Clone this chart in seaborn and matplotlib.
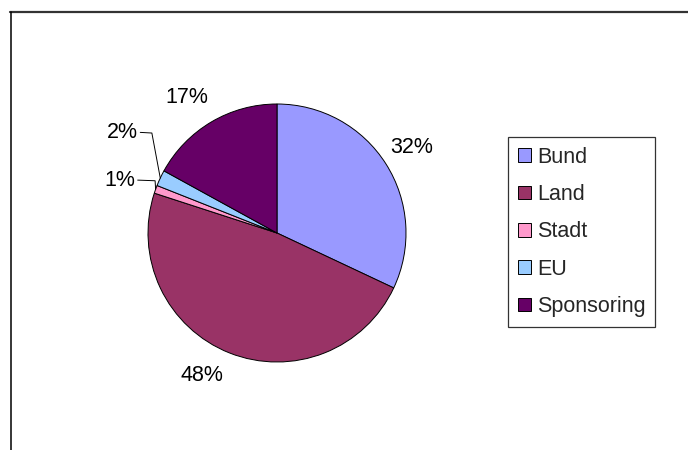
import numpy as np
import matplotlib
matplotlib.use("Agg")
import matplotlib.pyplot as plt
from matplotlib.lines import Line2D
from matplotlib.patches import Patch
import seaborn as sns

# Funding shares in percent
categories = ["Bund", "Land", "Stadt", "EU", "Sponsoring"]
shares = [32, 48, 1, 2, 17]
colors = ["#9999FF", "#993366", "#FF99CC", "#99CCFF", "#660066"]

sns.set_theme(style="white")
plt.rcParams["font.family"] = ["Liberation Sans", "DejaVu Sans"]

W, H = 688, 450
fig = plt.figure(figsize=(W / 100, H / 100), dpi=100)
fig.patch.set_facecolor("white")

# Pie axes: centre at (277, 233) px, radius 129 px
cx, cy, R = 277, 233, 129
half = 200
ax = fig.add_axes([(cx - half) / W, (H - cy - half) / H, 2 * half / W, 2 * half / H])

palette = sns.color_palette(colors)
wedges, _ = ax.pie(
    shares,
    colors=palette,
    startangle=90,
    counterclock=False,
    radius=1.0,
    wedgeprops=dict(edgecolor="black", linewidth=0.7),
)
lim = half / R
ax.set_xlim(-lim, lim)
ax.set_ylim(-lim, lim)
ax.set_aspect("equal")
ax.axis("off")

fs = 15.5
label_r = {"Bund": 1.24, "Land": 1.25, "Sponsoring": 1.26}
for w, name, val in zip(wedges, categories, shares):
    mid = np.deg2rad((w.theta1 + w.theta2) / 2)
    if name in label_r:
        r = label_r[name]
        ang = mid
        if name == "Land":
            ang = mid - np.deg2rad(6)
        if name == "Sponsoring":
            ang = mid + np.deg2rad(3)
        ax.text(r * np.cos(ang), r * np.sin(ang), f"{val}%", ha="center",
                va="center", fontsize=fs, color="black")

# Small slices get labels to the left with leader lines
leader = {"EU": ((-1.20, 0.78), -1.06, -0.97), "Stadt": ((-1.22, 0.41), -1.08, -0.945)}
for w, name, val in zip(wedges, categories, shares):
    if name in leader:
        (tx, ty), x0, x1 = leader[name]
        mid = np.deg2rad((w.theta1 + w.theta2) / 2)
        ex, ey = np.cos(mid), np.sin(mid)
        ax.text(tx, ty, f"{val}%", ha="center", va="center", fontsize=fs, color="black")
        ax.plot([x0, x1, ex], [ty, ty - 0.005, ey], color="black", lw=0.7)

# Legend box
handles = [Patch(facecolor=c, edgecolor="black", linewidth=0.7) for c in palette]
leg = fig.legend(
    handles, categories,
    loc="upper left",
    bbox_to_anchor=(508 / W, 1 - 137 / H),
    fontsize=fs,
    frameon=True,
    fancybox=False,
    shadow=False,
    handlelength=0.6,
    handleheight=0.6,
    handletextpad=0.3,
    labelspacing=0.76,
    borderpad=0.45,
    borderaxespad=0.0,
)
leg.get_frame().set_edgecolor("black")
leg.get_frame().set_linewidth(0.9)

# Chart area border (top and left edges)
fig.add_artist(Line2D([10 / W, 1.0], [1 - 11.5 / H, 1 - 11.5 / H],
                      transform=fig.transFigure, color="#333333", lw=1.6))
fig.add_artist(Line2D([10.5 / W, 10.5 / W], [0, 1 - 11.5 / H],
                      transform=fig.transFigure, color="black", lw=1.1))

fig.savefig("out.png", dpi=100, facecolor="white")
